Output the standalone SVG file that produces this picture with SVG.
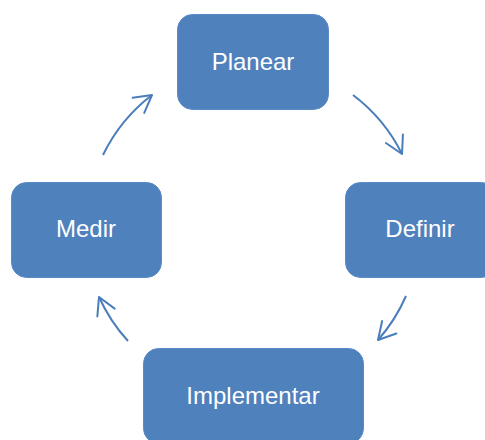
<svg xmlns="http://www.w3.org/2000/svg" width="485" height="440" viewBox="0 0 485 440">
  <style>
    .box { fill: #4F81BD; stroke: #5B8BC6; stroke-width: 1; }
    .label { font-family: "Liberation Sans", Arial, sans-serif; font-size: 24px; fill: #FFFFFF; text-anchor: middle; }
    .arc { fill: none; stroke: #4A7EBB; stroke-width: 2; marker-end: url(#head); }
  </style>
  <defs>
    <marker id="head" markerUnits="userSpaceOnUse" markerWidth="40" markerHeight="40" refX="0" refY="0" viewBox="-20 -20 40 40" orient="auto" overflow="visible">
      <path d="M -17 -9.5 L 0 0 L -17 9.5" fill="none" stroke="#4A7EBB" stroke-width="2" stroke-linecap="round" stroke-linejoin="round"/>
    </marker>
  </defs>
  <rect width="485" height="440" fill="#FFFFFF"/>

  <!-- cycle connectors: arcs of one circle around the layout centre -->
  <g id="connectors">
    <path class="arc" d="M 353 95 A 167 167 0 0 1 402 154"/>
    <path class="arc" d="M 406 296 A 167 167 0 0 1 378 340"/>
    <path class="arc" d="M 128 341 A 167 167 0 0 1 99 297"/>
    <path class="arc" d="M 103 155 A 167 167 0 0 1 152 95"/>
  </g>

  <g id="planear">
    <rect class="box" x="177.5" y="14.5" width="151" height="95" rx="15"/>
    <text class="label" x="253" y="70">Planear</text>
  </g>
  <g id="definir">
    <rect class="box" x="345.5" y="182.5" width="151" height="95" rx="15"/>
    <text class="label" x="420" y="237">Definir</text>
  </g>
  <g id="implementar">
    <rect class="box" x="143.5" y="348.5" width="220" height="95" rx="15"/>
    <text class="label" x="253" y="404">Implementar</text>
  </g>
  <g id="medir">
    <rect class="box" x="11.5" y="182.5" width="150" height="95" rx="15"/>
    <text class="label" x="86" y="237">Medir</text>
  </g>
</svg>
